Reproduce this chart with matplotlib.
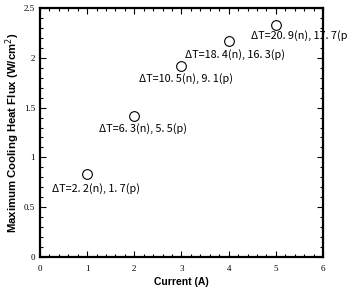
import matplotlib

matplotlib.use("Agg")
import matplotlib.pyplot as plt  # noqa: E402
from matplotlib.ticker import MultipleLocator  # noqa: E402

# data
current = [1, 2, 3, 4, 5]
heat_flux = [0.83, 1.42, 1.92, 2.17, 2.33]
labels = ["ΔT=2. 2(n), 1. 7(p)", "ΔT=6. 3(n), 5. 5(p)", "ΔT=10. 5(n), 9. 1(p)",
          "ΔT=18. 4(n), 16. 3(p)", "ΔT=20. 9(n), 17. 7(p)"]
label_x = [0.25, 1.25, 2.10, 3.07, 4.47]
label_y = [0.69, 1.285, 1.79, 2.03, 2.22]

fig = plt.figure(figsize=(3.47, 2.98), dpi=100)
ax = fig.add_axes([0.115, 0.1376, 0.816, 0.8354])

ax.plot(current, heat_flux, "o", mfc="none", mec="black", ms=7, mew=0.8)
for x, y, s in zip(label_x, label_y, labels):
    ax.text(x, y, s, fontsize=7.8, family=["Noto Sans CJK JP", "DejaVu Sans"],
            va="center", ha="left", clip_on=False)

ax.set_xlim(0, 6)
ax.set_ylim(0, 2.5)
ax.xaxis.set_major_locator(MultipleLocator(1))
ax.xaxis.set_minor_locator(MultipleLocator(0.2))
ax.yaxis.set_major_locator(MultipleLocator(0.5))
ax.yaxis.set_minor_locator(MultipleLocator(0.1))
ax.tick_params(which="both", direction="in", top=True, right=True, width=0.8)
ax.tick_params(which="major", length=4, labelsize=6.5)
ax.tick_params(which="minor", length=2)
ax.tick_params(axis="x", which="major", pad=6)
ax.xaxis.set_major_formatter(plt.FuncFormatter(lambda v, p: f"{v:g}"))
ax.yaxis.set_major_formatter(plt.FuncFormatter(lambda v, p: f"{v:g}"))
for lbl in ax.get_xticklabels() + ax.get_yticklabels():
    lbl.set_family("Liberation Serif")
for sp in ax.spines.values():
    sp.set_linewidth(1.6)

ax.set_xlabel("Current (A)", fontsize=7.5, fontweight="bold", family="Liberation Sans", labelpad=3)
ax.set_ylabel("Maximum Cooling Heat Flux (W/cm$^2$)", fontsize=8.2, fontweight="bold",
              family="Liberation Sans", labelpad=1)

fig.savefig("out.png", dpi=100)
